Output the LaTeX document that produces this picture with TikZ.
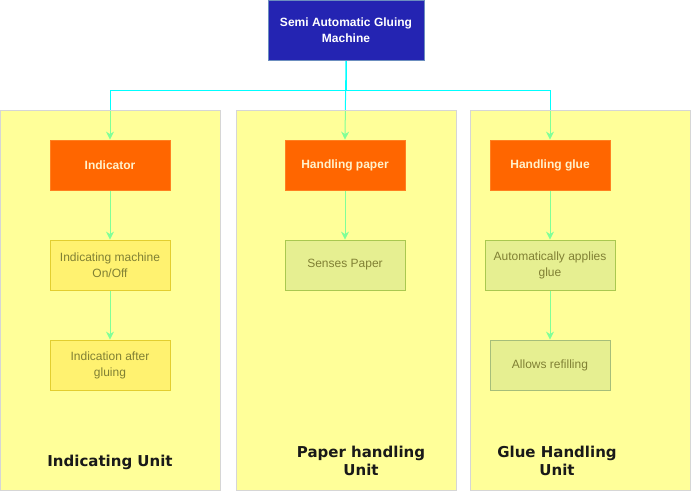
\documentclass[tikz,border=0pt]{standalone}
\usepackage{fontspec}
\setmainfont{Liberation Sans}
\newfontfamily\unitfont{DejaVu Sans}
\usetikzlibrary{arrows.meta}
\definecolor{topfill}{RGB}{36,36,178}
\definecolor{topline}{RGB}{108,142,191}
\definecolor{orangefill}{RGB}{255,102,0}
\definecolor{orangetext}{RGB}{255,242,204}
\definecolor{contfill}{RGB}{255,255,51}
\definecolor{contline}{RGB}{214,214,214}
\definecolor{yelfill}{RGB}{255,242,112}
\definecolor{yelline}{RGB}{226,206,48}
\definecolor{grnfill}{RGB}{230,239,145}
\definecolor{grnline}{RGB}{170,200,80}
\definecolor{grnline2}{RGB}{166,190,122}
\definecolor{olive}{RGB}{128,128,52}
\definecolor{conn}{RGB}{0,255,255}
\pgfdeclarelayer{edges}
\pgfdeclarelayer{cont}
\pgfsetlayers{edges,cont,main}
\tikzset{
  box/.style={minimum width=120pt,minimum height=50pt,inner sep=0pt,align=center,font=\fontsize{12}{16}\selectfont,line width=0.8pt},
  topbox/.style={box,minimum width=156pt,minimum height=60pt,fill=topfill,draw=topline,text=white,font=\fontsize{12}{16}\selectfont\bfseries},
  orangebox/.style={box,fill=orangefill,draw={rgb,255:red,255;green,128;blue,32},text=orangetext,font=\fontsize{12}{16}\selectfont\bfseries},
  yelbox/.style={box,fill=yelfill,draw=yelline,text=olive},
  grnbox/.style={box,fill=grnfill,draw=grnline,text=olive},
  container/.style={draw=contline,line width=0.8pt,fill=contfill,fill opacity=0.5},
  unitlabel/.style={align=center,font=\unitfont\fontsize{15}{18}\selectfont\bfseries,text=black!90},
  conn/.style={draw=conn,line width=1pt,-{Stealth[length=8pt,width=8pt,inset=2.5pt]}}
}
\begin{document}
\begin{tikzpicture}[x=1pt,y=-1pt]
\useasboundingbox (0,0) rectangle (691,491);
% containers
\begin{pgfonlayer}{cont}
\path[container] (0.5,110) rectangle (220,490);
\path[container] (236,110) rectangle (456,490);
\path[container] (470,110) rectangle (690,490);
\end{pgfonlayer}
% nodes
\node[topbox] (top) at (346,30) {Semi Automatic Gluing\\Machine};
\node[orangebox] (ind) at (110,165) {Indicator};
\node[yelbox] (ind1) at (110,265) {Indicating machine\\On/Off};
\node[yelbox] (ind2) at (110,365) {Indication after\\gluing};
\node[orangebox] (hp) at (345,165) {Handling paper};
\node[grnbox] (sp) at (345,265) {Senses Paper};
\node[orangebox] (hg) at (550,165) {Handling glue};
\node[grnbox,minimum width=130pt] (aa) at (550,265) {Automatically applies\\glue};
\node[grnbox,draw=grnline2] (ar) at (550,365) {Allows refilling};
\node[unitlabel] (u1) at (110,462) {Indicating Unit};
\node[unitlabel] (u2) at (361,461) {Paper handling\\Unit};
\node[unitlabel] (u3) at (557,461) {Glue Handling\\Unit};
% connectors
\begin{pgfonlayer}{edges}
\coordinate (split) at (346,90);
\draw[conn] (top.south) -- (split) -| (ind.north);
\draw[conn] (top.south) -- (hp.north);
\draw[conn] (top.south) -- (split) -| (hg.north);
\draw[conn] (ind) -- (ind1);
\draw[conn] (ind1) -- (ind2);
\draw[conn] (hp) -- (sp);
\draw[conn] (hg) -- (aa);
\draw[conn] (aa) -- (ar);
\end{pgfonlayer}
\end{tikzpicture}
\end{document}
